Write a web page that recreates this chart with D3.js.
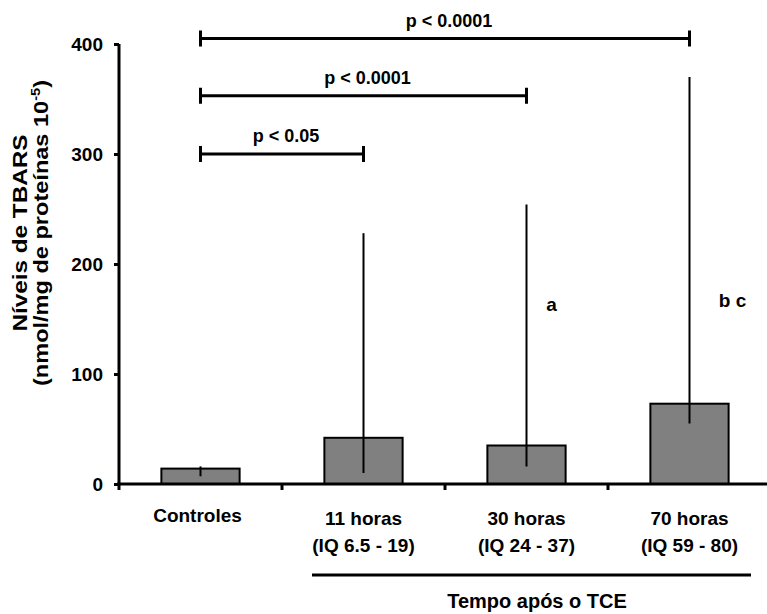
<!DOCTYPE html>
<html>
<head>
<meta charset="utf-8" />
<script src="https://d3js.org/d3.v7.min.js"></script>
<style>
	body { margin: 0; background: #fff; }
	text { font-family: "Liberation Sans", Arial, sans-serif; font-weight: bold; fill: #000; }
</style>
</head>
<body>
<div id="chart"></div>
<script>

// data
var categories = ["Controles", "11 horas", "30 horas", "70 horas"];
var subLabels = ["", "(IQ 6.5 - 19)", "(IQ 24 - 37)", "(IQ 59 - 80)"];
var medians = [14, 42, 35, 73];
var errLow = [7, 10, 16, 55];
var errHigh = [16, 228, 254, 370];
var yTicks = [0, 100, 200, 300, 400];
var letters = ["", "", "a", "b c"];
var letterValues = [0, 0, 157, 161];

// significance brackets: from category 0 to category "to"
var bracketTo = [3, 2, 1];
var bracketY = [405, 353, 300];
var bracketText = ["p < 0.0001", "p < 0.0001", "p < 0.05"];

var width = 767, height = 614;

var svg = d3.select("#chart").append("svg")
	.attr("width", width)
	.attr("height", height);

var x = d3.scaleBand()
	.domain(categories)
	.range([119, 771])
	.paddingInner(0.52)
	.paddingOuter(0.26);

var y = d3.scaleLinear()
	.domain([0, 400])
	.range([484, 44]);

var cx = function (i) { return x(categories[i]) + x.bandwidth() / 2; };

// bars
svg.selectAll(".bar")
	.data(medians)
	.enter().append("rect")
	.attr("class", "bar")
	.attr("x", function (d, i) { return x(categories[i]); })
	.attr("y", function (d) { return y(d); })
	.attr("width", x.bandwidth())
	.attr("height", function (d) { return y(0) - y(d); })
	.style("fill", "#808080")
	.style("stroke", "#000")
	.style("stroke-width", 2);

// error lines
svg.selectAll(".err")
	.data(errLow)
	.enter().append("line")
	.attr("class", "err")
	.attr("x1", function (d, i) { return cx(i); })
	.attr("x2", function (d, i) { return cx(i); })
	.attr("y1", function (d) { return y(d); })
	.attr("y2", function (d, i) { return y(errHigh[i]); })
	.style("stroke", "#000")
	.style("stroke-width", 2);

// y axis
var yAxis = svg.append("g")
	.attr("transform", "translate(119,0)")
	.call(d3.axisLeft(y).tickValues(yTicks).tickSize(5).tickSizeOuter(0).tickPadding(11));
yAxis.select(".domain").attr("d", "M0," + y(400) + "V" + (y(0) + 6)).style("stroke-width", 3);
yAxis.selectAll(".tick line").style("stroke-width", 3);
yAxis.selectAll(".tick text").style("font-size", "19px").style("font-family", "Liberation Sans, Arial, sans-serif").style("font-weight", "bold");

// x axis line with ticks at the band boundaries
svg.append("line")
	.attr("x1", 117).attr("x2", width)
	.attr("y1", y(0)).attr("y2", y(0))
	.style("stroke", "#000").style("stroke-width", 3);

var gap = x.step() - x.bandwidth();
svg.selectAll(".xtick")
	.data(categories.slice(0, 3))
	.enter().append("line")
	.attr("class", "xtick")
	.attr("x1", function (d) { return x(d) + x.bandwidth() + gap / 2; })
	.attr("x2", function (d) { return x(d) + x.bandwidth() + gap / 2; })
	.attr("y1", y(0)).attr("y2", y(0) + 6)
	.style("stroke", "#000").style("stroke-width", 3);

// category labels
svg.selectAll(".cat")
	.data(categories)
	.enter().append("text")
	.attr("class", "cat")
	.attr("x", function (d, i) { return i == 0 ? cx(i) - 3 : cx(i); })
	.attr("y", function (d, i) { return i == 0 ? 522 : 525; })
	.attr("text-anchor", "middle")
	.style("font-size", "19px")
	.text(function (d) { return d; });

svg.selectAll(".sub")
	.data(subLabels)
	.enter().append("text")
	.attr("class", "sub")
	.attr("x", function (d, i) { return cx(i); })
	.attr("y", 552)
	.attr("text-anchor", "middle")
	.style("font-size", "19px")
	.text(function (d) { return d; });

// group line under the time points
svg.append("line")
	.attr("x1", 312).attr("x2", 751)
	.attr("y1", 575).attr("y2", 575)
	.style("stroke", "#000").style("stroke-width", 3);

svg.append("text")
	.attr("x", 537)
	.attr("y", 608)
	.attr("text-anchor", "middle")
	.style("font-size", "20px")
	.text("Tempo após o TCE");

// significance brackets
var brackets = svg.selectAll(".bracket")
	.data(bracketTo)
	.enter().append("g")
	.attr("class", "bracket");

brackets.append("path")
	.attr("d", function (d, i) {
		var x0 = cx(0), x1 = cx(d), yy = y(bracketY[i]);
		return "M" + x0 + "," + yy + "H" + x1 +
			"M" + x0 + "," + (yy - 8) + "V" + (yy + 8) +
			"M" + x1 + "," + (yy - 8) + "V" + (yy + 8);
	})
	.style("fill", "none")
	.style("stroke", "#000")
	.style("stroke-width", 3);

brackets.append("text")
	.attr("x", function (d) { return (cx(0) + cx(d)) / 2 + 4; })
	.attr("y", function (d, i) { return y(bracketY[i]) - 12; })
	.attr("text-anchor", "middle")
	.style("font-size", "18px")
	.text(function (d, i) { return bracketText[i]; });

// letters
svg.selectAll(".letter")
	.data(letters)
	.enter().append("text")
	.attr("class", "letter")
	.attr("x", function (d, i) { return cx(i) + (i == 3 ? 43 : 25); })
	.attr("y", function (d, i) { return y(letterValues[i]); })
	.attr("text-anchor", "middle")
	.style("font-size", "19px")
	.text(function (d) { return d; });

// y axis title
var ytitle = svg.append("g")
	.attr("transform", "translate(27,233) rotate(-90)");

ytitle.append("text")
	.attr("text-anchor", "middle")
	.attr("textLength", 197)
	.attr("lengthAdjust", "spacingAndGlyphs")
	.style("font-size", "21px")
	.text("Níveis de TBARS");

var t2 = ytitle.append("text")
	.attr("y", 21)
	.attr("text-anchor", "middle")
	.attr("textLength", 306)
	.attr("lengthAdjust", "spacingAndGlyphs")
	.style("font-size", "21px");
t2.append("tspan").text("(nmol/mg de proteínas 10");
t2.append("tspan").attr("dy", -8).style("font-size", "13px").text("-5");
t2.append("tspan").attr("dy", 8).text(")");

</script>
</body>
</html>
